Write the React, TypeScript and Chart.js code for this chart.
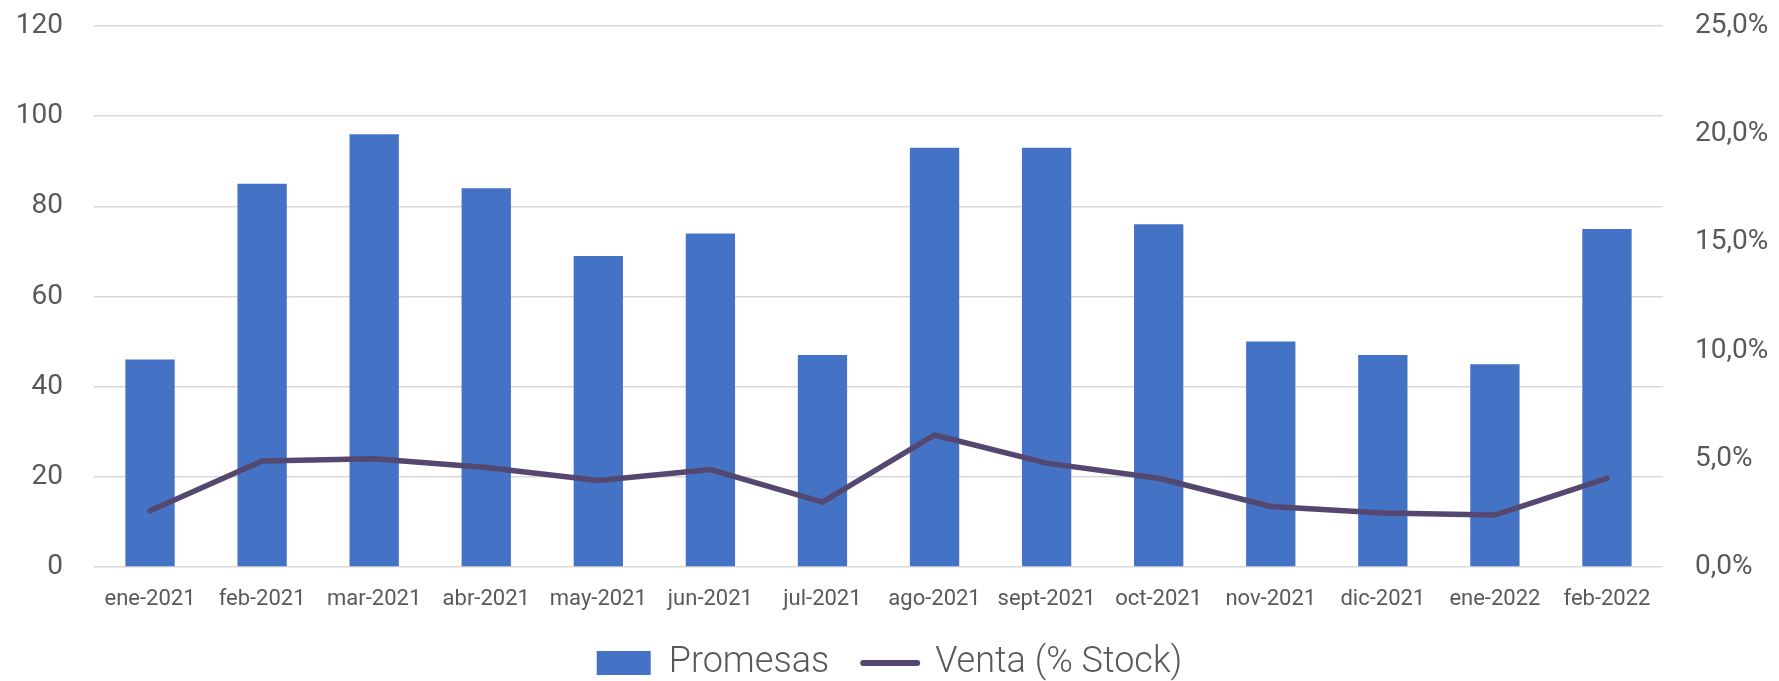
import React, { useEffect, useRef } from "react";
import { Chart, registerables } from "chart.js";

Chart.register(...registerables);

const categories = [
  "ene-2021", "feb-2021", "mar-2021", "abr-2021", "may-2021", "jun-2021", "jul-2021",
  "ago-2021", "sept-2021", "oct-2021", "nov-2021", "dic-2021", "ene-2022", "feb-2022",
];
const promesas = [46, 85, 96, 84, 69, 74, 47, 93, 93, 76, 50, 47, 45, 75];
const ventaPct = [2.6, 4.9, 5.0, 4.6, 4.0, 4.5, 3.0, 6.1, 4.8, 4.1, 2.8, 2.5, 2.4, 4.1];
const seriesNames = ["Promesas", "Venta (% Stock)"];
const leftTicks = { min: 0, max: 120, step: 20 };
const rightTicks = { min: 0, max: 25, step: 5 };

const BAR_COLOR = "#4472C4";
const LINE_COLOR = "#544870";
const TEXT_COLOR = "#595959";
const GRID_COLOR = "#D9D9D9";
const FONT = "Roboto, 'Noto Sans', sans-serif";

export default function App() {
  const canvasRef = useRef<HTMLCanvasElement | null>(null);

  useEffect(() => {
    const canvas = canvasRef.current;
    if (!canvas) return;
    const chart = new Chart(canvas, {
      type: "bar",
      data: {
        labels: categories,
        datasets: [
          {
            type: "bar",
            label: seriesNames[0],
            data: promesas,
            backgroundColor: BAR_COLOR,
            borderWidth: 0,
            barPercentage: 0.44,
            categoryPercentage: 1,
            yAxisID: "y",
            order: 2,
          },
          {
            type: "line",
            label: seriesNames[1],
            data: ventaPct,
            borderColor: LINE_COLOR,
            backgroundColor: LINE_COLOR,
            borderWidth: 5.5,
            borderCapStyle: "round",
            borderJoinStyle: "miter",
            pointRadius: 0,
            pointHoverRadius: 0,
            tension: 0,
            fill: false,
            yAxisID: "y1",
            order: 1,
          },
        ],
      },
      options: {
        responsive: true,
        maintainAspectRatio: false,
        animation: false,
        layout: { padding: { top: 26, left: 0, right: 0, bottom: 0 } },
        plugins: {
          tooltip: { enabled: false },
          legend: {
            position: "bottom",
            maxHeight: 70,
            labels: {
              usePointStyle: true,
              pointStyleWidth: 54,
              boxHeight: 24,
              padding: 34,
              color: TEXT_COLOR,
              font: { family: FONT, size: 36, weight: "300" },
              generateLabels: (ch: any) =>
                ch.data.datasets.map((ds: any, i: number) => ({
                  text: ds.label,
                  fillStyle: i === 0 ? BAR_COLOR : LINE_COLOR,
                  strokeStyle: i === 0 ? BAR_COLOR : LINE_COLOR,
                  lineWidth: i === 0 ? 0 : 6,
                  lineCap: "round",
                  pointStyle: i === 0 ? "rect" : "line",
                  fontColor: TEXT_COLOR,
                  hidden: false,
                  datasetIndex: i,
                })),
            },
          },
        },
        scales: {
          x: {
            grid: { display: false, drawTicks: false },
            border: { display: false },
            ticks: {
              color: TEXT_COLOR,
              font: { family: FONT, size: 22 },
              padding: 19,
              maxRotation: 0,
              autoSkip: false,
            },
            afterFit: (scale: any) => {
              scale.height = 44;
            },
          },
          y: {
            position: "left",
            min: leftTicks.min,
            max: leftTicks.max,
            grid: {
              color: GRID_COLOR,
              lineWidth: 1.5,
              drawTicks: true,
              tickLength: 31,
              tickColor: "rgba(0,0,0,0)",
            },
            border: { display: false },
            ticks: {
              stepSize: leftTicks.step,
              color: TEXT_COLOR,
              font: { family: FONT, size: 28 },
              padding: 0,
            },
            afterFit: (scale: any) => {
              scale.width = 94;
            },
          },
          y1: {
            position: "right",
            min: rightTicks.min,
            max: rightTicks.max,
            grid: { display: false, drawTicks: true, tickLength: 32, tickColor: "rgba(0,0,0,0)" },
            border: { display: false },
            ticks: {
              stepSize: rightTicks.step,
              color: TEXT_COLOR,
              font: { family: FONT, size: 28 },
              padding: 0,
              callback: (v: any) => Number(v).toFixed(1).replace(".", ",") + "%",
            },
            afterFit: (scale: any) => {
              scale.width = 116;
            },
          },
        },
      },
    });
    return () => chart.destroy();
  }, []);

  return (
    <div style={{ position: "fixed", left: 0, top: 0, width: 1779, height: 681, background: "#fff" }}>
      <canvas ref={canvasRef} />
    </div>
  );
}
